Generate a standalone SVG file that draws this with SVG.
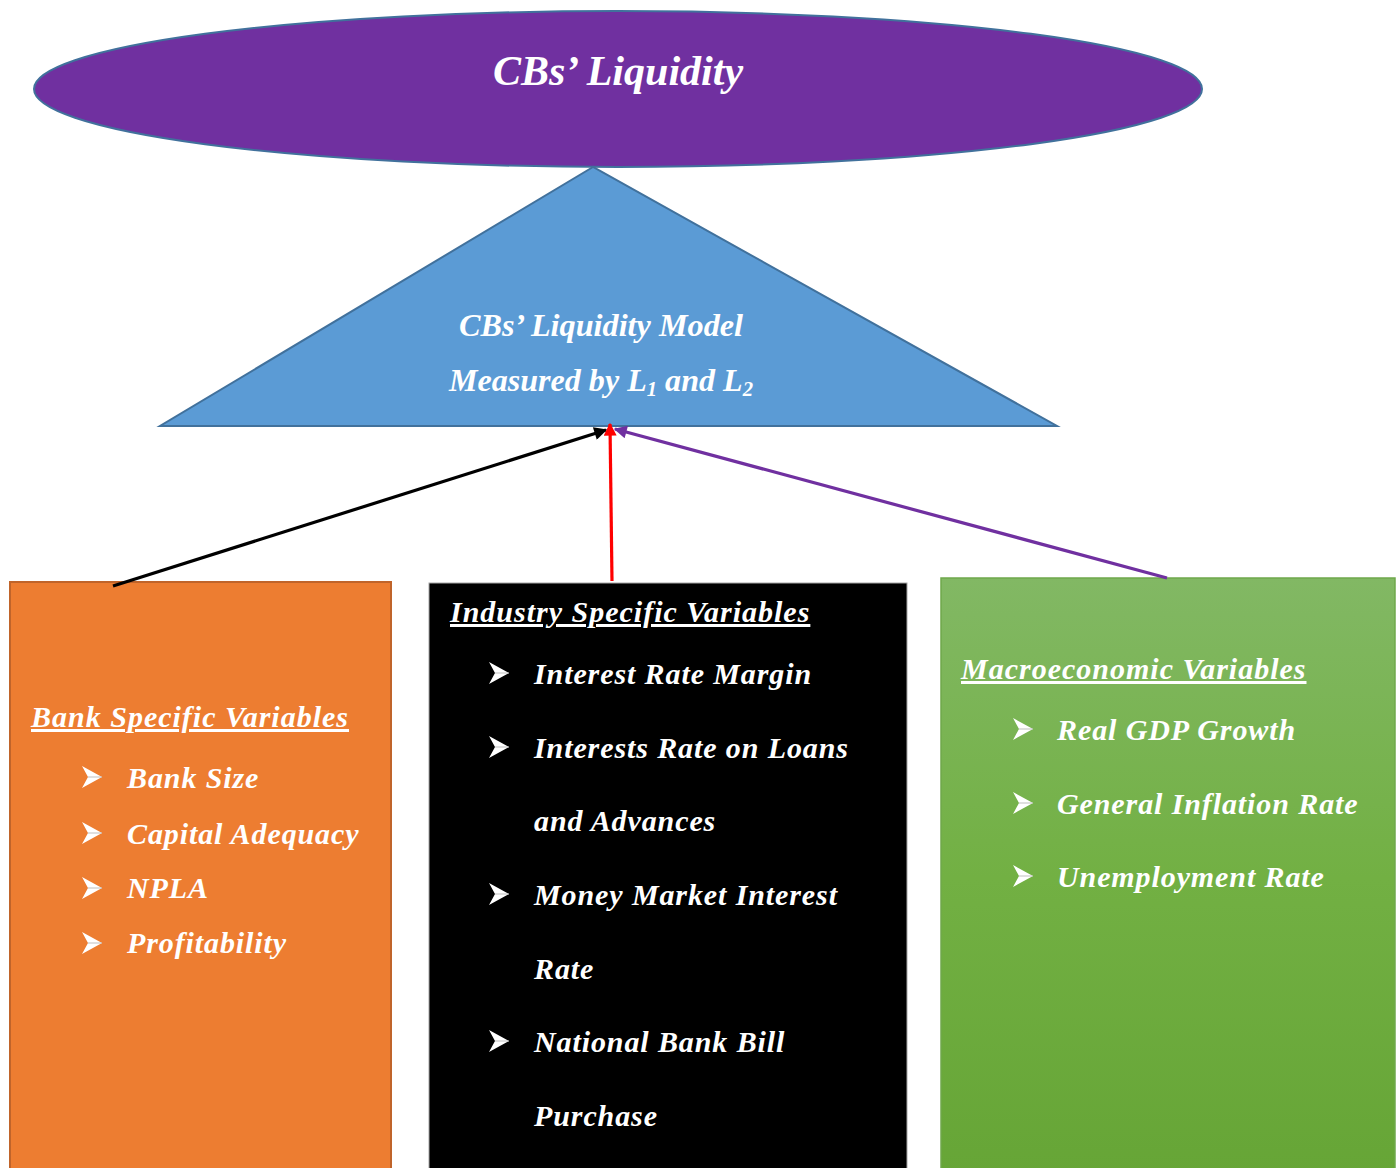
<svg xmlns="http://www.w3.org/2000/svg" width="1400" height="1168" viewBox="0 0 1400 1168">
  <defs>
    <linearGradient id="greenFill" x1="0" y1="0" x2="0" y2="1">
      <stop offset="0" stop-color="#82b864"/>
      <stop offset="0.5" stop-color="#72b043"/>
      <stop offset="1" stop-color="#66a536"/>
    </linearGradient>
    <marker id="headBlack" viewBox="0 0 10 10" refX="9" refY="5" markerWidth="15" markerHeight="13" markerUnits="userSpaceOnUse" orient="auto">
      <path d="M0,0 L10,5 L0,10 Z" fill="#000000"/>
    </marker>
    <marker id="headRed" viewBox="0 0 10 10" refX="9" refY="5" markerWidth="15" markerHeight="13" markerUnits="userSpaceOnUse" orient="auto">
      <path d="M0,0 L10,5 L0,10 Z" fill="#ff0000"/>
    </marker>
    <marker id="headPurple" viewBox="0 0 10 10" refX="9" refY="5" markerWidth="15" markerHeight="13" markerUnits="userSpaceOnUse" orient="auto">
      <path d="M0,0 L10,5 L0,10 Z" fill="#7030a0"/>
    </marker>
    <!-- arrowhead bullet, origin at its left top -->
    <g id="bullet">
      <path d="M0,0 L20,11 L0,22 L6,11 Z" fill="#ffffff"/>
      <path d="M6,11 L20,11" stroke="#bfbfbf" stroke-width="1"/>
    </g>
  </defs>
  <style>
    .t { font-family: "Liberation Serif", "Times New Roman", serif; font-weight: bold; font-style: italic; fill: #ffffff; }
    .head { font-size: 30px; text-decoration: underline; letter-spacing: 1px; }
    .item { font-size: 30px; letter-spacing: 0.9px; }
    .edge { fill: none; stroke-width: 3.2; }
  </style>

  <rect width="1400" height="1168" fill="#ffffff"/>

  <!-- top ellipse -->
  <g id="liquidity">
    <ellipse cx="618" cy="89" rx="584" ry="78" fill="#7030a0" stroke="#41719c" stroke-width="2"/>
    <text class="t" x="618" y="85" font-size="42" text-anchor="middle">CBs’ Liquidity</text>
  </g>

  <!-- model triangle -->
  <g id="model">
    <polygon points="593,167 160,426 1057,426" fill="#5b9bd5" stroke="#41719c" stroke-width="2"/>
    <text class="t" x="459" y="336" font-size="31" textLength="284" lengthAdjust="spacingAndGlyphs">CBs’ Liquidity Model</text>
    <text class="t" x="449" y="391" font-size="31" textLength="304" lengthAdjust="spacingAndGlyphs">Measured by L<tspan font-size="20" dy="5">1</tspan><tspan dy="-5"> and L</tspan><tspan font-size="20" dy="5">2</tspan></text>
  </g>

  <!-- bank specific box -->
  <g id="bank">
    <rect x="10" y="582" width="381" height="600" fill="#ed7d31" stroke="#c0642a" stroke-width="2"/>
    <text class="t head" x="31" y="727">Bank Specific Variables</text>
    <use href="#bullet" x="82" y="766"/>
    <text class="t item" x="127" y="788">Bank Size</text>
    <use href="#bullet" x="82" y="822"/>
    <text class="t item" x="127" y="844">Capital Adequacy</text>
    <use href="#bullet" x="82" y="877"/>
    <text class="t item" x="127" y="898">NPLA</text>
    <use href="#bullet" x="82" y="932"/>
    <text class="t item" x="127" y="953">Profitability</text>
  </g>

  <!-- industry specific box -->
  <g id="industry">
    <rect x="429" y="583" width="478" height="600" fill="#000000" stroke="#a6a6a6" stroke-width="1"/>
    <text class="t head" x="450" y="622">Industry Specific Variables</text>
    <use href="#bullet" x="489" y="662"/>
    <text class="t item" x="534" y="684">Interest Rate Margin</text>
    <use href="#bullet" x="489" y="736"/>
    <text class="t item" x="534" y="758">Interests Rate on Loans</text>
    <text class="t item" x="534" y="831">and Advances</text>
    <use href="#bullet" x="489" y="883"/>
    <text class="t item" x="534" y="905">Money Market Interest</text>
    <text class="t item" x="534" y="979">Rate</text>
    <use href="#bullet" x="489" y="1030"/>
    <text class="t item" x="534" y="1052">National Bank Bill</text>
    <text class="t item" x="534" y="1126">Purchase</text>
  </g>

  <!-- macroeconomic box -->
  <g id="macro">
    <rect x="941" y="578" width="454" height="600" fill="url(#greenFill)" stroke="#6fa84b" stroke-width="1.5"/>
    <text class="t head" x="961" y="679">Macroeconomic Variables</text>
    <use href="#bullet" x="1013" y="718"/>
    <text class="t item" x="1057" y="740">Real GDP Growth</text>
    <use href="#bullet" x="1013" y="792"/>
    <text class="t item" x="1057" y="814">General Inflation Rate</text>
    <use href="#bullet" x="1013" y="865"/>
    <text class="t item" x="1057" y="887">Unemployment Rate</text>
  </g>

  <!-- connectors -->
  <g id="connectors">
    <line class="edge" x1="113" y1="586" x2="606" y2="430" stroke="#000000" marker-end="url(#headBlack)"/>
    <line class="edge" x1="612" y1="581" x2="610" y2="424" stroke="#ff0000" marker-end="url(#headRed)"/>
    <line class="edge" x1="1167" y1="578" x2="615" y2="429" stroke="#7030a0" marker-end="url(#headPurple)"/>
  </g>
</svg>
